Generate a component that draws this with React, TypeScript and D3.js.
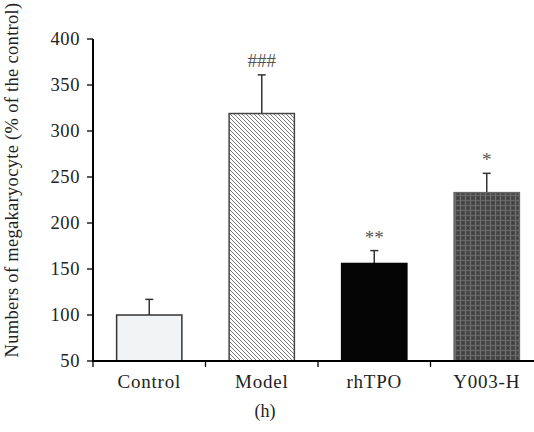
import React from "react";
import * as d3 from "d3";

const groups = ["Control", "Model", "rhTPO", "Y003-H"];
const means = [100, 319, 156, 233];
const errTops = [117, 361, 170, 254];
const marks = ["", "###", "**", "*"];
const yTicks = [50, 100, 150, 200, 250, 300, 350, 400];

const W = 534;
const H = 432;
const font = "'Liberation Serif', 'Times New Roman', serif";

const App = () => {
  const left = 93;
  const top = 39;
  const bottom = 361;

  const x = d3
    .scaleBand()
    .domain(groups)
    .range([left, left + 4 * 112.5])
    .paddingInner(0.42)
    .paddingOuter(0.21);
  const y = d3.scaleLinear().domain([50, 400]).range([bottom, top]);

  const fills = ["#f2f3f5", "url(#hatch)", "#050505", "url(#plaid)"];
  const strokes = ["#333", "#444", "#050505", "#666"];
  const step = x.step();

  return (
    <svg
      width={W}
      height={H}
      style={{ position: "absolute", left: 0, top: 0, background: "#fff" }}
    >
      <defs>
        <pattern id="hatch" width={4} height={4} patternUnits="userSpaceOnUse">
          <rect width={4} height={4} fill="#fff" />
          <path d="M-1,-1 L5,5 M-1,3 L1,5 M3,-1 L5,1" stroke="#6b6b6b" strokeWidth={0.9} />
        </pattern>
        <pattern id="plaid" width={10} height={10} patternUnits="userSpaceOnUse">
          <rect width={10} height={10} fill="#4a4a4a" />
          <path d="M0,0.5 H10 M0,5.5 H10" stroke="#676767" strokeWidth={1} />
          <path d="M0.5,0 V10 M5.5,0 V10" stroke="#707070" strokeWidth={1} />
          <rect x={2.5} y={2.5} width={1} height={1} fill="#222" />
          <rect x={7.5} y={7.5} width={1} height={1} fill="#222" />
          <rect x={7.5} y={2.5} width={1} height={1} fill="#333" />
          <rect x={2.5} y={7.5} width={1} height={1} fill="#333" />
        </pattern>
      </defs>

      {/* y label */}
      <text
        transform={`translate(18, ${180}) rotate(-90)`}
        textAnchor="middle"
        fontFamily={font}
        fontSize={18.5}
        letterSpacing={0.3}
        fill="#222"
      >
        Numbers of megakaryocyte (% of the control)
      </text>

      {/* y axis */}
      <line x1={left} x2={left} y1={top} y2={bottom} stroke="#000" strokeWidth={2} />
      {yTicks.map(t => (
        <g key={t}>
          <line x1={left - 6} x2={left} y1={y(t)} y2={y(t)} stroke="#000" strokeWidth={1.3} />
          <text
            x={left - 13}
            y={y(t)}
            dy="0.34em"
            textAnchor="end"
            fontFamily={font}
            fontSize={18.5}
            letterSpacing={0.6}
            fill="#222"
          >
            {t}
          </text>
        </g>
      ))}

      {/* bars */}
      {groups.map((g, i) => {
        const bx = x(g) as number;
        const cx = bx + x.bandwidth() / 2;
        return (
          <g key={g}>
            <line x1={cx} x2={cx} y1={y(means[i])} y2={y(errTops[i])} stroke="#333" strokeWidth={1.5} />
            <line x1={cx - 4} x2={cx + 4} y1={y(errTops[i])} y2={y(errTops[i])} stroke="#333" strokeWidth={1.5} />
            <rect
              x={bx}
              y={y(means[i])}
              width={x.bandwidth()}
              height={bottom - y(means[i])}
              fill={fills[i]}
              stroke={strokes[i]}
              strokeWidth={1.5}
            />
            {marks[i] && (
              <text
                x={cx}
                y={y(errTops[i]) - (marks[i][0] === "#" ? 8 : 7)}
                textAnchor="middle"
                fontFamily={font}
                fontSize={19}
                fill="#555"
              >
                {marks[i]}
              </text>
            )}
            <text
              x={cx}
              y={388}
              textAnchor="middle"
              fontFamily={font}
              fontSize={19}
              letterSpacing={0.8}
              fill="#222"
            >
              {g}
            </text>
          </g>
        );
      })}

      {/* x axis */}
      <line x1={left - 1} x2={W} y1={bottom} y2={bottom} stroke="#000" strokeWidth={2} />
      {groups.map((g, i) => (
        <line
          key={g}
          x1={left + i * step}
          x2={left + i * step}
          y1={bottom}
          y2={bottom + 6}
          stroke="#000"
          strokeWidth={1.3}
        />
      ))}

      <text x={265} y={417} textAnchor="middle" fontFamily={font} fontSize={18} fill="#222">
        (h)
      </text>
    </svg>
  );
};

export default App;
